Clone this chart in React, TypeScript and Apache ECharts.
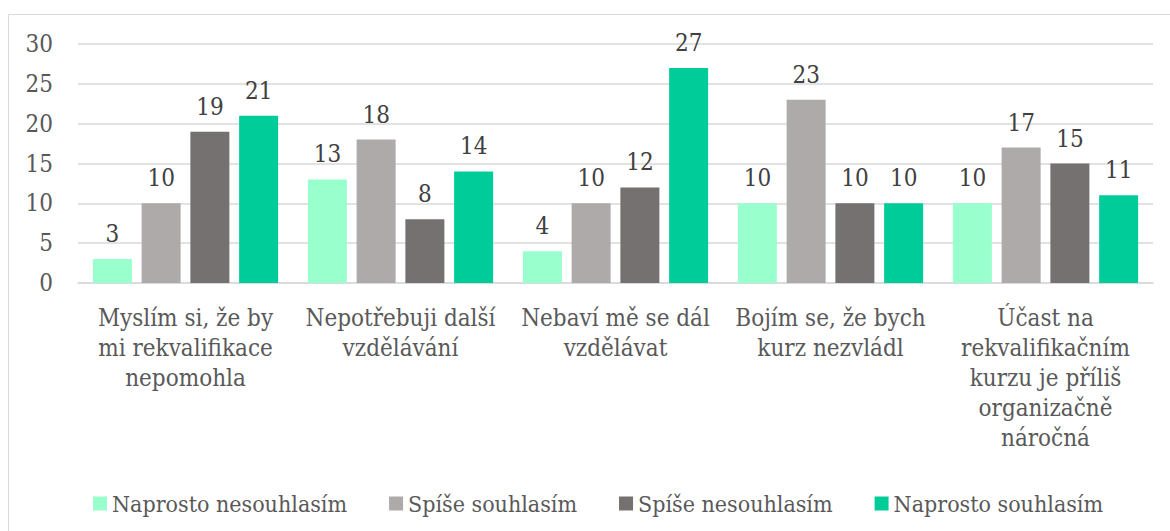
import React, { useEffect, useRef } from "react";
import * as echarts from "echarts";

const categories = [
  "Myslím si, že by\nmi rekvalifikace\nnepomohla",
  "Nepotřebuji další\nvzdělávání",
  "Nebaví mě se dál\nvzdělávat",
  "Bojím se, že bych\nkurz nezvládl",
  "Účast na\nrekvalifikačním\nkurzu je příliš\norganizačně\nnáročná",
];
const seriesNames = [
  "Naprosto nesouhlasím",
  "Spíše souhlasím",
  "Spíše nesouhlasím",
  "Naprosto souhlasím",
];
const naprostoNesouhlasim = [3, 13, 4, 10, 10];
const spiseSouhlasim = [10, 18, 10, 23, 17];
const spiseNesouhlasim = [19, 8, 12, 10, 15];
const naprostoSouhlasim = [21, 14, 27, 10, 11];
const colors = ["#99FFCC", "#AEAAAA", "#767171", "#00CC99"];

const FONT = "DejaVu Serif Condensed";

export default function App() {
  const ref = useRef<HTMLDivElement>(null);
  useEffect(() => {
    if (!ref.current) return;
    const chart = echarts.init(ref.current, undefined, { renderer: "svg" });
    const values = [naprostoNesouhlasim, spiseSouhlasim, spiseNesouhlasim, naprostoSouhlasim];
    chart.setOption({
      animation: false,
      textStyle: { fontFamily: FONT },
      graphic: [
        {
          type: "rect",
          shape: { x: 8.5, y: 14.5, width: 1200, height: 600 },
          style: { fill: "none", stroke: "#d9d9d9", lineWidth: 1 },
          silent: true,
        },
      ],
      grid: { left: 78, right: 17, top: 44, bottom: 248, containLabel: false },
      legend: {
        left: 88,
        top: 487,
        itemWidth: 14,
        itemHeight: 14,
        itemGap: 42,
        icon: "rect",
        textStyle: { fontFamily: FONT, fontSize: 23, color: "#595959" },
        data: seriesNames,
      },
      xAxis: {
        type: "category",
        data: categories,
        axisLine: { lineStyle: { color: "#d9d9d9", width: 1.5 } },
        axisTick: { show: false },
        axisLabel: {
          interval: 0,
          fontFamily: FONT,
          fontSize: 24,
          lineHeight: 30,
          color: "#595959",
          margin: 20,
        },
      },
      yAxis: {
        type: "value",
        min: 0,
        max: 30,
        interval: 5,
        axisLine: { show: false },
        axisTick: { show: false },
        splitLine: { lineStyle: { color: "#d9d9d9", width: 1.5 } },
        axisLabel: { fontFamily: FONT, fontSize: 24, color: "#595959", margin: 25 },
      },
      series: seriesNames.map((name, i) => ({
        name,
        type: "bar",
        data: values[i],
        barWidth: 39,
        barGap: "25%",
        itemStyle: { color: colors[i] },
        label: {
          show: true,
          position: "top",
          distance: 13,
          fontFamily: FONT,
          fontSize: 24,
          color: "#404040",
        },
      })),
    });
    return () => chart.dispose();
  }, []);
  return (
    <div
      ref={ref}
      style={{ position: "absolute", left: 0, top: 0, width: 1170, height: 531 }}
    />
  );
}
